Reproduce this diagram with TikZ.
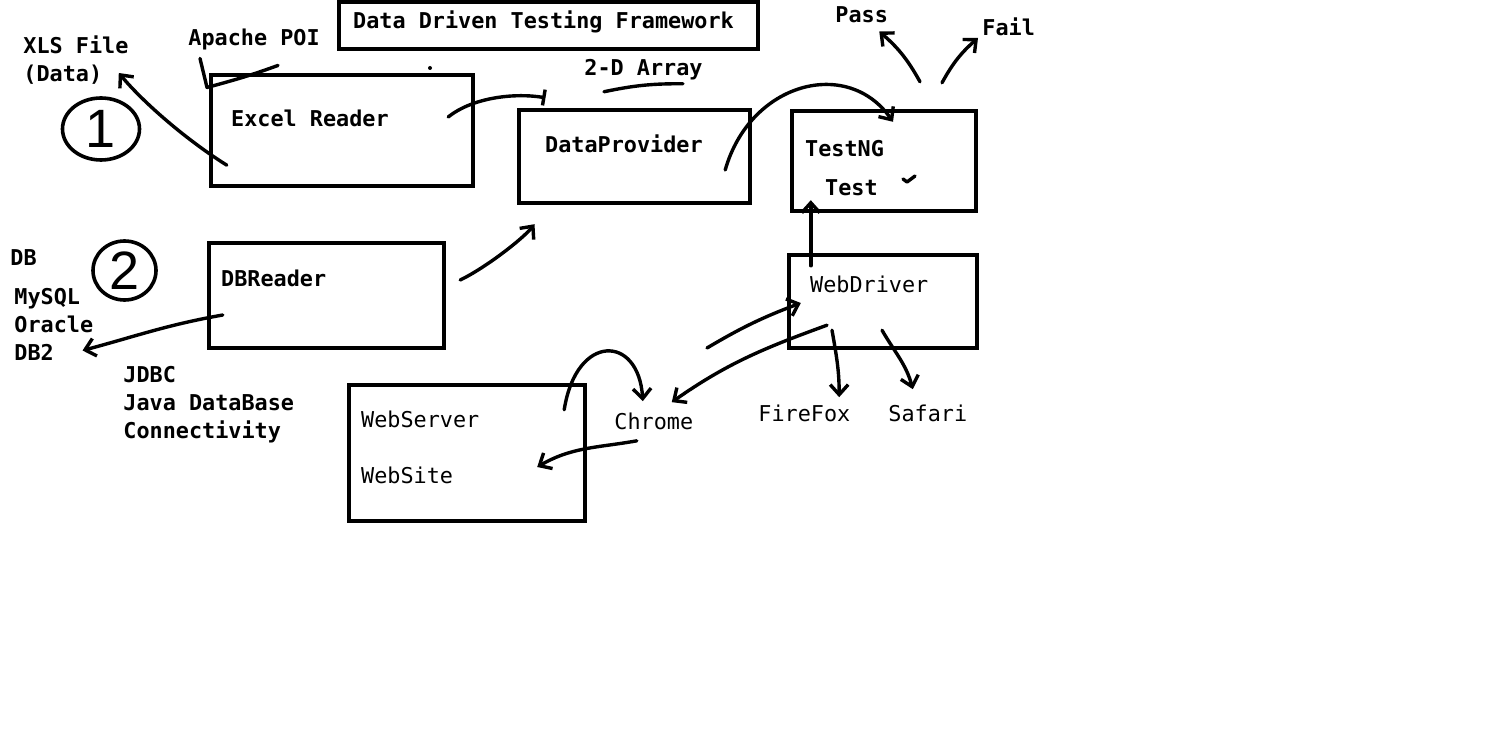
\documentclass[tikz,border=0pt]{standalone}
\usepackage{fontspec}
\setmonofont{DejaVu Sans Mono}
\newfontfamily\handfont{Liberation Sans}
\usetikzlibrary{arrows.meta,shapes.geometric,positioning}
\tikzstyle{box} = [
  rectangle, draw, line width = 2.2pt, inner sep = 0pt
]
\tikzstyle{lbl} = [
  anchor = west, inner sep = 0pt, align = left,
  font = \fontsize{10.9}{14}\selectfont\ttfamily\bfseries
]
\tikzstyle{plainlbl} = [
  lbl, font = \fontsize{10.9}{14}\selectfont\ttfamily
]
\tikzstyle{ring} = [
  ellipse, draw, line width = 1.8pt, inner sep = 0pt,
  font = \fontsize{27}{27}\selectfont\handfont
]
\tikzstyle{pen} = [line width = 1.7pt, line cap = round, line join = round]
\tikzstyle{arr} = [pen, -{Straight Barb[length=5pt,width=9pt,line width=1.7pt]}]

\begin{document}
\begin{tikzpicture}[x=0.5pt, y=0.5pt]
    \useasboundingbox (0,0) rectangle (1508,-742);

    % boxes
    \node[box, minimum width=209.5pt, minimum height=23.5pt] (titlebox) at (548.5,-25.5) {};
    \node[box, minimum width=131pt, minimum height=55.5pt] (excelbox) at (342,-130.5) {};
    \node[box, minimum width=115.5pt, minimum height=46.5pt] (dpbox) at (634.5,-156.5) {};
    \node[box, minimum width=92pt, minimum height=50pt] (testbox) at (884,-161) {};
    \node[box, minimum width=117.5pt, minimum height=52.5pt] (dbbox) at (326.5,-295.5) {};
    \node[box, minimum width=94pt, minimum height=46.5pt] (wdbox) at (883,-301.5) {};
    \node[box, minimum width=118pt, minimum height=68pt] (wsbox) at (467,-453) {};

    % texts in the boxes
    \node[lbl] (title) at ([shift={(16,3.5)}]titlebox.west) {Data Driven Testing Framework};
    \node[lbl] (excel) at ([shift={(22,12.5)}]excelbox.west) {Excel Reader};
    \node[lbl] (dp) at ([shift={(28,12.5)}]dpbox.west) {DataProvider};
    \node[lbl] (testng) at ([shift={(15,12)}]testbox.west) {TestNG};
    \node[lbl] (test) at ([shift={(35,-27)}]testbox.west) {Test};
    \node[lbl] (dbr) at ([shift={(14,17.5)}]dbbox.west) {DBReader};
    \node[plainlbl] (wd) at ([shift={(23,17.5)}]wdbox.west) {WebDriver};
    \node[plainlbl] (webserver) at ([shift={(14,34)}]wsbox.west) {WebServer};
    \node[plainlbl] (website) at ([shift={(14,-22)}]wsbox.west) {WebSite};

    % free texts
    \node[lbl] (xls) at (23,-60) {XLS File\\(Data)};
    \node[lbl] (apache) at (188,-39) {Apache POI};
    \node[lbl] (array) at (584,-70) {2-D Array};
    \node[lbl] (pass) at (835,-15) {Pass};
    \node[lbl] (fail) at (982,-27) {Fail};
    \node[lbl] (db) at (10,-258) {DB};
    \node[lbl] (dblist) at (14,-324.5) {MySQL\\Oracle\\DB2};
    \node[lbl] (jdbc) at (123,-405) {JDBC\\Java DataBase\\Connectivity};
    \node[plainlbl] (chrome) at (614,-421) {Chrome};
    \node[plainlbl] (firefox) at (758,-413) {FireFox};
    \node[plainlbl] (safari) at (888,-413) {Safari};
    \node[ring, minimum width=38.5pt, minimum height=31pt] (one) at (101,-129) {1};
    \node[ring, minimum width=31.5pt, minimum height=29.5pt] (two) at (124.5,-270.5) {2};
    \coordinate (drvtail) at (707,-348);

    % connectors
    \draw[arr] ([shift={(18,23)}]excelbox.south west) .. controls +(-40,25) and +(25,-30) .. ([shift={(-10,-13)}]xls.east);
    \draw[pen] ([shift={(12,-8.5)}]apache.south west) -- ++(7,-29) to[out=15,in=200] ++(71,22);
    \draw[pen, -{Bar[width=8pt,line width=1.7pt]}] ([shift={(-27,13.5)}]excelbox.east) .. controls +(25,20) and +(-30,5) .. ([shift={(-89,10)}]dpbox.north);
    \draw[pen] ([shift={(20,-11)}]array.south west) to[bend left=6] ++(79,8);
    \draw[arr] ([shift={(14,15.5)}]dbbox.east) .. controls +(25,12) and +(-12,-15) .. ([shift={(-100,-19)}]dpbox.south);
    \draw[arr] ([shift={(-27,-13.5)}]dpbox.east) .. controls +(25,88) and +(-45,65) .. ([shift={(9,-13)}]testbox.north);
    \draw[arr] ([shift={(36,27)}]testbox.north) to[bend right=10] ([shift={(-9,-8)}]pass.south east);
    \draw[arr] ([shift={(58,26)}]testbox.north) to[bend left=10] ([shift={(-4,-11)}]fail.west);
    \draw[arr] ([shift={(24,-13)}]wdbox.north west) -- ([shift={(21,13)}]testbox.south west);
    \draw[arr] ([shift={(16,-19.5)}]dbbox.west) to[out=190,in=15] ([shift={(-11,-26)}]dblist.east);
    \draw[arr] (drvtail) to[bend left=5] ([shift={(14,-1.5)}]wdbox.west);
    \draw[arr] ([shift={(-56,25)}]wdbox.south) to[out=200,in=35] ([shift={(18,10)}]chrome.north);
    \draw[arr] ([shift={(-23,-27)}]wsbox.north east) .. controls +(12,77) and +(-4,67) .. ([shift={(-11,11)}]chrome.north);
    \draw[arr] ([shift={(-17,-11)}]chrome.south) to[out=190,in=30] ([shift={(-50,-14)}]wsbox.east);
    \draw[arr] ([shift={(-51,20)}]wdbox.south) to[out=-80,in=90] ([shift={(-11.5,7)}]firefox.north east);
    \draw[arr] ([shift={(-1,20)}]wdbox.south) to[out=-60,in=105] ([shift={(-15,15)}]safari.north);
    \draw[pen] ([shift={(19,-18)}]testbox.center) -- ++(4,-3) -- ++(8,6);
    \fill (430,-68) circle[radius=1pt];
\end{tikzpicture}
\end{document}
